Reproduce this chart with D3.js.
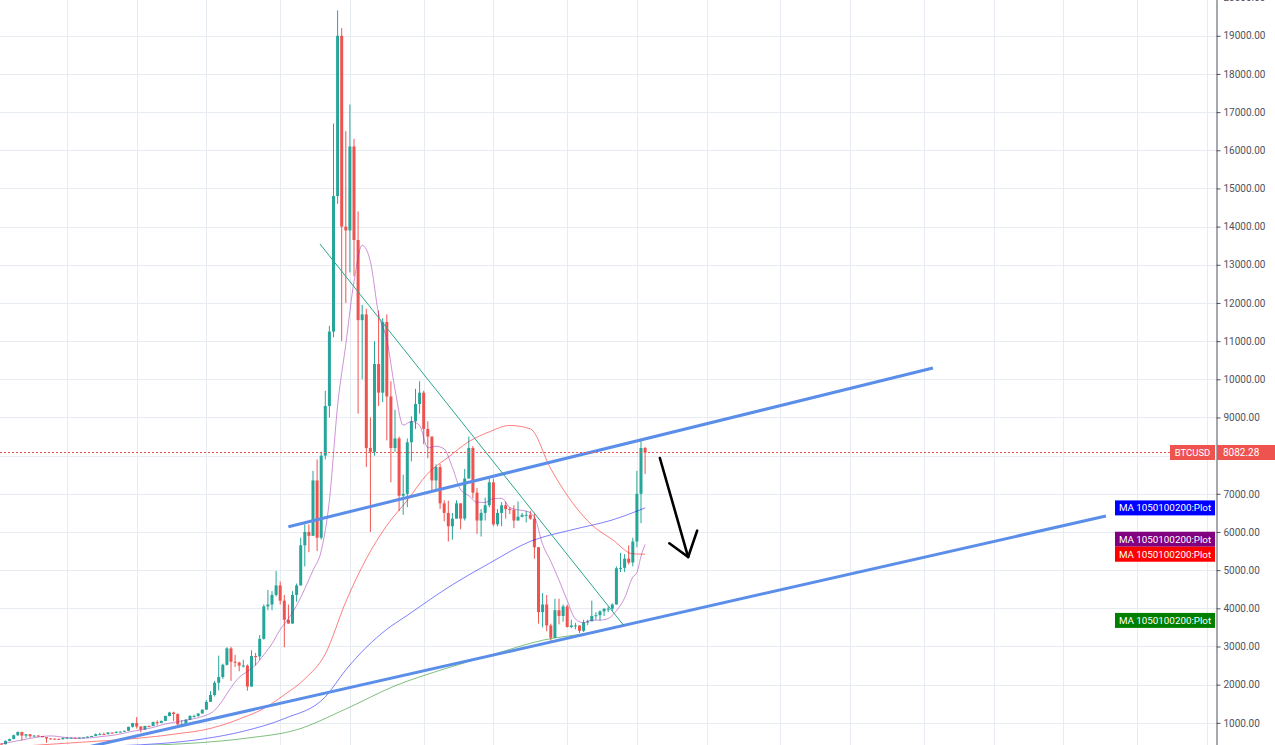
<!DOCTYPE html>
<html>
<head>
<meta charset="utf-8">
<script src="https://cdnjs.cloudflare.com/ajax/libs/d3/7.8.5/d3.min.js"></script>
<style>
  body { margin: 0; background: #fff; overflow: hidden; }
  svg { display: block; font-family: Roboto, "Noto Sans", sans-serif; }
</style>
</head>
<body>
<div id="chart"></div>
<script>
// weekly BTCUSD candles, week 0 = 16 May 2016
var opens = [455,440,528,575,675,760,665,700,648,665,655,624,590,585,580,570,606,608,609,600,
  610,617,638,655,700,705,702,745,735,765,770,792,895,995,905,825,920,915,1020,998,
  1050,1180,1270,1230,960,965,1080,1180,1180,1245,1345,1550,1730,2050,2200,2520,2950,2600,2580,2500,
  2500,1950,2750,2740,3200,4050,4100,4350,4600,4200,3700,3600,4350,4600,5650,6000,5900,7350,5850,8000,
  9300,11250,14800,19000,14000,13900,16100,13650,11550,11700,8200,8100,10400,9650,11500,9550,8200,8450,6950,7000,
  8350,8900,9350,9650,8700,8500,7350,7700,6750,6500,6150,6350,6750,6350,7400,8200,7030,6300,6500,6700,
  7300,6200,6500,6700,6600,6580,6300,6400,6450,6450,6350,5600,3900,4100,3550,3230,3950,3800,4050,3510,
  3550,3550,3410,3630,3660,3800,3820,3920,3990,3990,4100,5050,5060,5300,5200,5750,7000,8200];
var highs = [460,535,585,690,775,765,705,705,680,680,660,628,600,590,586,615,630,612,611,616,
  620,642,660,720,740,745,755,750,775,775,795,900,1000,1150,910,920,925,1035,1065,1060,
  1190,1290,1290,1250,1070,1100,1200,1210,1250,1350,1600,1830,2100,2760,2550,2980,2990,2780,2600,2650,
  2530,2900,2830,3300,4100,4480,4450,4980,4700,4350,4100,4450,4650,5850,6200,6200,7600,7900,8100,9700,
  11400,16700,19666,19200,16500,17200,16300,14400,11950,11850,9000,11000,11800,11600,11700,9950,9200,8500,7500,8450,
  9030,9750,9950,9700,8900,8500,7770,7780,6830,6820,6500,6830,6750,7650,8500,8250,7150,6600,6900,7400,
  7400,6600,6780,6800,6650,6700,6800,6500,6550,6550,6500,5600,4400,4350,3600,4250,4250,4100,4100,3700,
  3620,3550,3700,3700,4200,3900,3950,4000,4050,4130,5100,5450,5420,5650,5850,7600,8400,8230];
var lows = [436,436,518,570,655,540,605,610,645,645,620,480,575,565,565,565,600,600,590,597,
  606,615,628,652,685,680,700,715,730,752,765,790,875,850,750,820,880,915,930,990,
  1045,1170,1050,940,890,960,1075,1140,1160,1240,1340,1550,1690,1850,2150,2500,2100,2460,2350,2450,
  1840,1950,2500,2650,3180,3950,3950,4310,4100,2980,3600,3600,4170,4600,5100,5470,5900,5500,5800,7900,
  9000,11100,14600,11000,12000,12800,12700,9100,10000,7700,6000,8000,9300,9400,8400,7300,8100,6550,6450,6650,
  7850,8700,9100,8300,7930,7050,7050,6600,6280,5750,5800,6350,6070,6300,7400,6880,5950,5880,6300,6650,
  6150,6150,6150,6350,6470,6100,6300,6380,6250,6320,5300,3600,3500,3400,3150,3230,3580,3650,3500,3480,
  3450,3350,3380,3560,3660,3700,3680,3800,3900,3930,4100,4950,4950,5150,5100,5600,6230,7520];
var closes = [440,528,575,675,760,665,700,648,665,655,624,590,585,580,570,606,608,609,600,610,
  617,638,655,700,705,702,745,735,765,770,792,895,995,905,825,920,915,1020,998,1050,
  1180,1270,1230,960,965,1080,1180,1180,1245,1345,1550,1730,2050,2200,2520,2950,2600,2580,2500,2500,
  1950,2750,2740,3200,4050,4100,4350,4600,4200,3700,3600,4350,4600,5650,6000,5900,7350,5850,8000,9300,
  11250,14800,19000,14000,13900,16100,13650,11550,11700,8200,8100,10400,9650,11500,9550,8200,8450,6950,7000,8350,
  8900,9350,9650,8700,8500,7350,7700,6750,6500,6150,6350,6750,6350,7400,8200,7030,6300,6500,6700,7300,
  6200,6500,6700,6600,6580,6300,6400,6450,6450,6350,5600,3900,4100,3550,3230,3950,3800,4050,3510,3550,
  3550,3410,3630,3660,3800,3820,3920,3990,3990,4100,5050,5060,5300,5200,5750,7000,8200,8082.28];

// moving averages (week index, value)
var ma10Weeks = [0,4,8,12,16,20,24,28,32,36,40,44,48,50,52,54,56,58,60,62,64,66,68,70,72,74,76,78,80,82,84,86,88,90,
  92,94,96,98,100,102,104,106,108,110,112,114,116,118,120,122,124,126,128,130,132,134,136,138,140,142,144,146,148,150,
  152,154,155,156,157];
var ma10 = [450,530,611,657,613,598,635,687,780,852,970,1051,1134,1201,1329,1596,1925,2191,2346,2517,2782,3072,3444,3729,
  4075,4515,4995,5500,6825,9310,10915,12565,13510,13085,11710,11045,9735,8800,8895,8790,8205,8245,8175,7690,7110,6950,
  6778,6773,6873,6883,6641,6578,6548,6393,5673,5233,4738,4204,3719,3623,3691,3690,3732,3937,4269,4818,4936,5364,5673];
var ma50Weeks = [0,4,9,14,19,24,29,34,39,44,49,54,59,64,69,74,79,84,89,94,99,104,109,114,119,124,129,134,139,144,149,154,157];
var ma50 = [350,379,418,453,489,522,555,603,659,730,806,945,1140,1375,1734,2151,2805,4172,5299,6171,6829,7532,7959,
  8366,8624,8791,8702,7655,6807,6184,5802,5427,5417];
var ma100Weeks = [0,9,19,29,39,49,59,69,79,84,89,94,99,109,119,129,139,149,157];
var ma100 = [350,360,371,402,459,575,779,1111,1680,2387,2979,3450,3817,4550,5179,5754,6053,6315,6631];
var ma200Weeks = [0,12,24,36,48,60,72,84,96,108,120,132,144,157];
var ma200 = [299,337,374,413,476,601,818,1363,1969,2411,2794,3164,3368,3683];

// drawings (week index, price)
var upperChannel = [[70.0, 6137], [227.2, 10296]];
var lowerChannel = [[20, 340], [269.4, 6419]];
var downTrend = [[77.7, 13545], [151.7, 3563]];
var arrowShaft = [[160.6, 7938], [167.5, 5344]];
var arrowHead = [[162.9, 5703], [167.5, 5344], [169.7, 6034]];

var lastPrice = 8082.28;
var gridWeeks = [16,33,50,68,85,103,120,138,155,172,190,207,225,242,259,277,294];
var priceTicks = d3.range(1000, 20001, 1000);
var maLabel = "MA 1050100200:Plot";

var width = 1275, height = 745, axisX = 1216;

var svg = d3.select("#chart").append("svg")
  .attr("width", width)
  .attr("height", height);

var x = d3.scaleLinear().domain([0, 157]).range([1.4, 645.1]);
var y = d3.scaleLinear().domain([0, 20000]).range([761, -2.4]);

svg.append("clipPath").attr("id", "plotclip")
  .append("rect").attr("x", 0).attr("y", 0).attr("width", axisX).attr("height", height);

var plot = svg.append("g").attr("clip-path", "url(#plotclip)");

// grid
plot.append("g").selectAll("line").data(gridWeeks).enter().append("line")
  .attr("x1", d => Math.round(x(d)) + 0.5).attr("x2", d => Math.round(x(d)) + 0.5)
  .attr("y1", 0).attr("y2", height)
  .attr("stroke", "#e6ecf2").attr("stroke-width", 1);
plot.append("g").selectAll("line").data(priceTicks).enter().append("line")
  .attr("x1", 0).attr("x2", axisX)
  .attr("y1", d => Math.round(y(d)) + 0.5).attr("y2", d => Math.round(y(d)) + 0.5)
  .attr("stroke", "#e6ecf2").attr("stroke-width", 1);

// candles
var candles = closes.map((c, i) => ({ i: i, o: opens[i], h: highs[i], l: lows[i], c: c }));
var upColor = "#26a69a", downColor = "#ef5350";
var cg = plot.append("g").selectAll("g").data(candles).enter().append("g");
cg.append("line")
  .attr("x1", d => x(d.i)).attr("x2", d => x(d.i))
  .attr("y1", d => y(d.h)).attr("y2", d => y(d.l))
  .attr("stroke", d => d.c >= d.o ? upColor : downColor).attr("stroke-width", 1);
cg.append("rect")
  .attr("x", d => x(d.i) - 1.5).attr("width", 3)
  .attr("y", d => y(Math.max(d.o, d.c)))
  .attr("height", d => Math.max(1, Math.abs(y(d.o) - y(d.c))))
  .attr("fill", d => d.c >= d.o ? upColor : downColor);

// moving averages
var maLine = d3.line().x(d => x(d[0])).y(d => y(d[1])).curve(d3.curveMonotoneX);
var maSeries = [
  { w: ma200Weeks, v: ma200, color: "#008000" },
  { w: ma100Weeks, v: ma100, color: "#0000ff" },
  { w: ma50Weeks, v: ma50, color: "#ff0000" },
  { w: ma10Weeks, v: ma10, color: "#9c27b0" }
];
maSeries.forEach(function (s) {
  plot.append("path")
    .attr("d", maLine(d3.zip(s.w, s.v)))
    .attr("fill", "none")
    .attr("stroke", s.color)
    .attr("stroke-opacity", 0.5)
    .attr("stroke-width", 1);
});

// drawings
var straight = d3.line().x(d => x(d[0])).y(d => y(d[1]));
[upperChannel, lowerChannel].forEach(function (seg) {
  plot.append("path").attr("d", straight(seg))
    .attr("stroke", "#5b8ee8").attr("stroke-width", 3).attr("fill", "none");
});
plot.append("path").attr("d", straight(downTrend))
  .attr("stroke", "#2aa58c").attr("stroke-width", 1).attr("fill", "none");
plot.append("path").attr("d", straight(arrowShaft))
  .attr("stroke", "#000").attr("stroke-width", 2.6).attr("stroke-linecap", "round").attr("fill", "none");
plot.append("path").attr("d", straight(arrowHead))
  .attr("stroke", "#000").attr("stroke-width", 2.6).attr("stroke-linecap", "round")
  .attr("stroke-linejoin", "round").attr("fill", "none");

// last price line
plot.append("line")
  .attr("x1", 0).attr("x2", 1170)
  .attr("y1", Math.round(y(lastPrice)) + 0.5).attr("y2", Math.round(y(lastPrice)) + 0.5)
  .attr("stroke", "#ef5350").attr("stroke-width", 1).attr("stroke-dasharray", "2,2");

// price axis, the tick hidden by the last price label is left out
var ly = y(lastPrice);
var axisTicks = priceTicks.filter(d => Math.abs(y(d) - ly) > 12);
var axis = svg.append("g")
  .attr("transform", "translate(" + (axisX + 0.5) + ",0)")
  .call(d3.axisRight(y).tickValues(axisTicks)
    .tickFormat(d3.format(".2f")).tickSize(4).tickSizeOuter(0).tickPadding(3));
axis.select(".domain").attr("stroke", "#50535e");
axis.selectAll(".tick line").attr("stroke", "#50535e");
axis.selectAll(".tick text").attr("fill", "#50535e").style("font-size", "10px")
  .style("font-family", "Roboto, sans-serif");

// last price labels
svg.append("rect").attr("x", 1170).attr("y", ly - 7.5).attr("width", 45).attr("height", 15).attr("fill", "#ef5350");
svg.append("text").attr("x", 1192.5).attr("y", ly).attr("dy", "0.35em").attr("text-anchor", "middle")
  .attr("fill", "#fff").style("font-size", "9.5px").text("BTCUSD");
svg.append("rect").attr("x", axisX + 1).attr("y", ly - 7.5).attr("width", width - axisX).attr("height", 15).attr("fill", "#ef5350");
svg.append("text").attr("x", 1223).attr("y", ly).attr("dy", "0.35em")
  .attr("fill", "#fff").style("font-size", "10px").text(d3.format(".2f")(lastPrice));

// moving average labels
var redY = y(ma50[ma50.length - 1]);
var labels = [
  { yy: y(ma100[ma100.length - 1]), color: "#0000ff" },
  { yy: Math.min(y(ma10[ma10.length - 1]), redY - 15), color: "#800080" },
  { yy: redY, color: "#ff0000" },
  { yy: y(ma200[ma200.length - 1]), color: "#008000" }
];
var lg = svg.append("g").selectAll("g").data(labels).enter().append("g");
lg.append("rect").attr("x", 1115).attr("y", d => d.yy - 7.5).attr("width", 100).attr("height", 15)
  .attr("fill", d => d.color);
lg.append("text").attr("x", 1165).attr("y", d => d.yy).attr("dy", "0.35em").attr("text-anchor", "middle")
  .attr("fill", "#fff").style("font-size", "9.8px").text(maLabel);
</script>
</body>
</html>
